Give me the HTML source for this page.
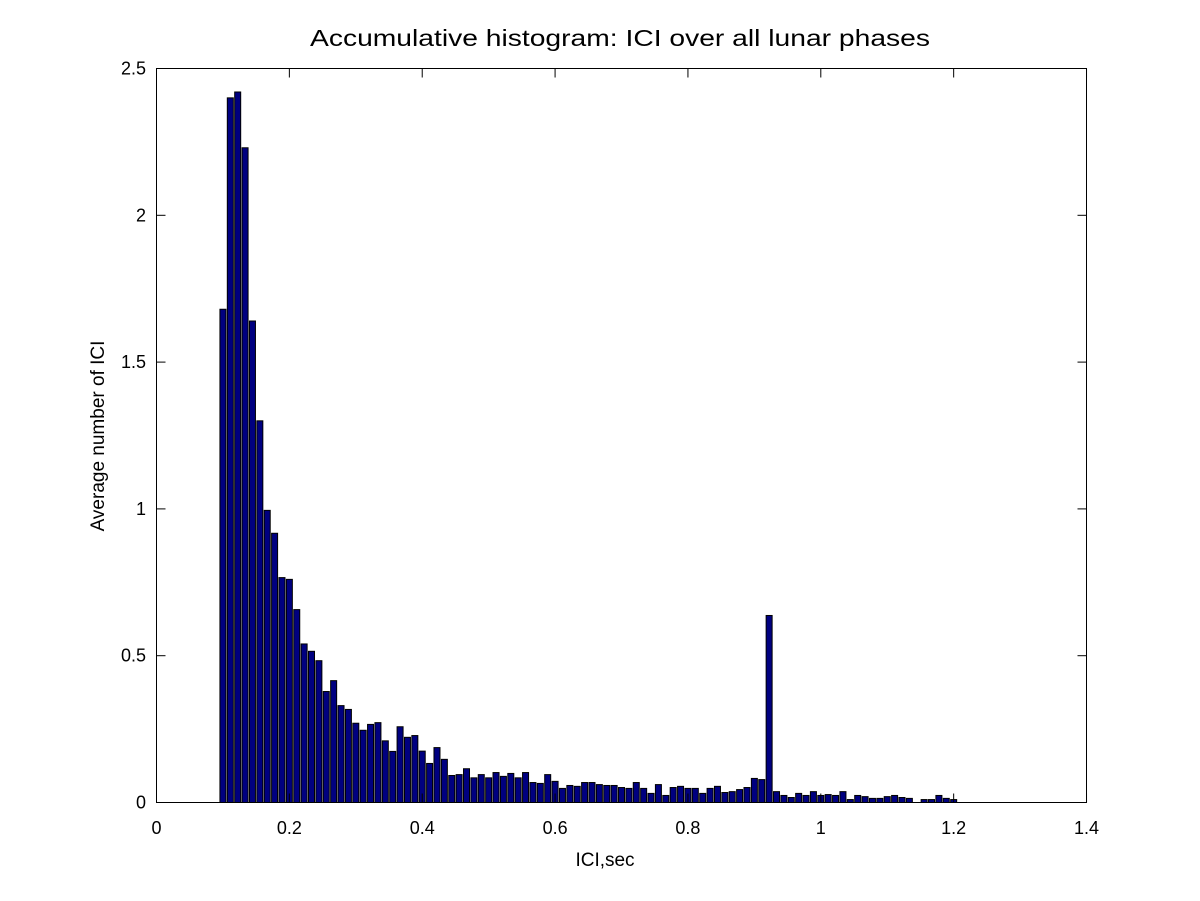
<!DOCTYPE html>
<html><head><meta charset="utf-8"><style>html,body{margin:0;padding:0;background:#fff}svg{display:block}</style></head>
<body>
<svg width="1200" height="901" xmlns="http://www.w3.org/2000/svg" font-family="Liberation Sans, Arial, sans-serif">
<rect width="1200" height="901" fill="#fff"/>
<g id="bars" fill="#000080" stroke="#000" stroke-width="1"></g>
<rect x="156.5" y="68.5" width="930" height="734" fill="none" stroke="#000" stroke-width="1"/>
<g stroke="#000" stroke-width="1" id="ticks"></g>
<g font-size="18" fill="#000" text-anchor="middle" id="xl"></g>
<g font-size="18" fill="#000" text-anchor="end" id="yl"></g>
<text x="620" y="46" font-size="23" text-anchor="middle" textLength="620" lengthAdjust="spacingAndGlyphs">Accumulative histogram: ICI over all lunar phases</text>
<text x="605" y="866" font-size="19" text-anchor="middle">ICI,sec</text>
<text transform="translate(104,436) rotate(-90)" font-size="19" text-anchor="middle">Average number of ICI</text>
<script>
var v=[1.68,2.40,2.42,2.23,1.64,1.30,0.995,0.917,0.766,0.76,0.657,0.54,0.515,0.483,0.378,0.415,0.33,0.317,0.27,0.246,0.266,0.272,0.21,0.174,0.258,0.222,0.228,0.175,0.133,0.187,0.147,0.092,0.095,0.115,0.084,0.095,0.084,0.102,0.089,0.099,0.084,0.102,0.068,0.065,0.095,0.072,0.048,0.058,0.055,0.068,0.068,0.061,0.058,0.058,0.051,0.048,0.068,0.048,0.031,0.061,0.024,0.051,0.055,0.048,0.048,0.031,0.048,0.055,0.034,0.037,0.044,0.051,0.082,0.078,0.637,0.037,0.024,0.017,0.031,0.024,0.037,0.024,0.027,0.024,0.037,0.010,0.024,0.020,0.014,0.014,0.020,0.024,0.017,0.014,0,0.010,0.010,0.024,0.014,0.010];
var ns="http://www.w3.org/2000/svg",g=document.getElementById('bars');
var X0=156.5,XS=664.3,Y0=802.5,YS=293.6;
for(var i=0;i<100;i++){if(v[i]<=0)continue;var c=0.1+i*1.1/99,cx=X0+c*XS,h=v[i]*YS;
var r=document.createElementNS(ns,'rect');r.setAttribute('x',cx-3.0);r.setAttribute('width',6.0);r.setAttribute('y',Y0-h);r.setAttribute('height',h);g.appendChild(r);}
var t=document.getElementById('ticks'),xl=document.getElementById('xl'),yl=document.getElementById('yl');
function ln(a,b,c,d){var l=document.createElementNS(ns,'line');l.setAttribute('x1',a);l.setAttribute('y1',b);l.setAttribute('x2',c);l.setAttribute('y2',d);t.appendChild(l);}
function tx(p,x,y,s){var e=document.createElementNS(ns,'text');e.setAttribute('x',x);e.setAttribute('y',y);e.textContent=s;p.appendChild(e);}
var xs=['0','0.2','0.4','0.6','0.8','1','1.2','1.4'];
for(var k=0;k<8;k++){var x=X0+k*0.2*XS;ln(x,802.5,x,793.5);ln(x,68.5,x,77.5);tx(xl,x,834,xs[k]);}
var ys=['0','0.5','1','1.5','2','2.5'];
for(var k=0;k<6;k++){var y=Y0-k*0.5*YS;ln(156.5,y,165.5,y);ln(1086.5,y,1077.5,y);tx(yl,146,y+6,ys[k]);}
</script>
</svg>
</body></html>
